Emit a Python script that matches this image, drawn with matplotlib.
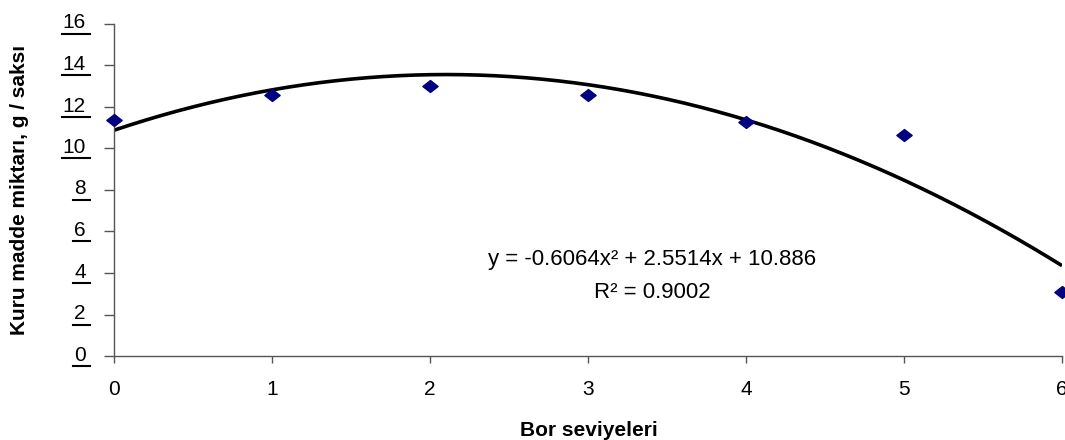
import numpy as np
import matplotlib
matplotlib.use("Agg")
import matplotlib.pyplot as plt
from matplotlib.lines import Line2D
from matplotlib.path import Path
from matplotlib.transforms import ScaledTranslation

# Data
bor_levels = [0, 1, 2, 3, 4, 5, 6]
kuru_madde = [11.37, 12.58, 13.01, 12.58, 11.28, 10.65, 3.08]
y_ticks = [0, 2, 4, 6, 8, 10, 12, 14, 16]
x_ticks = [0, 1, 2, 3, 4, 5, 6]
eq_text = "y = -0.6064x\u00b2 + 2.5514x + 10.886"
r2_text = "R\u00b2 = 0.9002"
x_label = "Bor seviyeleri"
y_label = "Kuru madde miktarı, g / saksı"

plt.rcParams['font.family'] = ['Liberation Sans', 'DejaVu Sans']

W, H = 1065, 440
fig = plt.figure(figsize=(W / 100, H / 100), dpi=100)
ax = fig.add_axes([114 / W, (H - 356) / H, (1062 - 114) / W, (356 - 24) / H])

# Trendline (2nd order polynomial fit of the data)
coef = np.polyfit(bor_levels, kuru_madde, 2)
xs = np.linspace(0, 6, 300)
ax.plot(xs, np.polyval(coef, xs), color='black', lw=2.6, solid_capstyle='butt', zorder=2)

diamond = Path([(-1, 0), (0, 0.78), (1, 0), (0, -0.78), (-1, 0)],
               [Path.MOVETO, Path.LINETO, Path.LINETO, Path.LINETO, Path.CLOSEPOLY])
ax.plot(bor_levels, kuru_madde, linestyle='none', marker=diamond, ms=11,
        color='#000080', mec='#000080', zorder=3, clip_on=False)

ax.set_xlim(0, 6)
ax.set_ylim(0, 16)
ax.set_xticks(x_ticks)
ax.set_yticks(y_ticks)
ax.set_xticklabels([str(v) for v in x_ticks], fontsize=15)
ax.set_yticklabels([str(v) for v in y_ticks], fontsize=15)

spine_c = '#555555'
for s in ['top', 'right']:
    ax.spines[s].set_visible(False)
for s in ['left', 'bottom']:
    ax.spines[s].set_color(spine_c)
    ax.spines[s].set_linewidth(1.0)
ax.tick_params(axis='y', direction='out', length=7.2, width=1.0, color=spine_c, pad=13)
ax.tick_params(axis='x', direction='out', length=5, width=1.0, color=spine_c, pad=12)

# shift y tick labels slightly upward
up = ScaledTranslation(0, 3 / 100, fig.dpi_scale_trans)
for tick in ax.yaxis.get_major_ticks():
    tick.label1.set_transform(tick.label1.get_transform() + up)

ax.text(652 / W, (H - 260) / H, eq_text, transform=fig.transFigure,
        ha='center', va='center', fontsize=16)
ax.text(652 / W, (H - 292) / H, r2_text, transform=fig.transFigure,
        ha='center', va='center', fontsize=16)

fig.text(589 / W, (H - 430) / H, x_label, ha='center', va='center',
         fontsize=15, fontweight='bold')
fig.text(20 / W, (H - 190) / H, y_label, ha='center', va='center',
         fontsize=15, fontweight='bold', rotation=90)

# Underlines beneath y tick labels
fig.canvas.draw()
renderer = fig.canvas.get_renderer()
for tick, tv in zip(ax.yaxis.get_major_ticks(), y_ticks):
    bb = tick.label1.get_window_extent(renderer)
    _, ty = ax.transData.transform((0, tv))
    yline = ty - 10
    line = Line2D([bb.x0 - 1, 90], [yline, yline], transform=None,
                  color='black', lw=1.5)
    fig.add_artist(line)

fig.savefig("out.png", dpi=100)
